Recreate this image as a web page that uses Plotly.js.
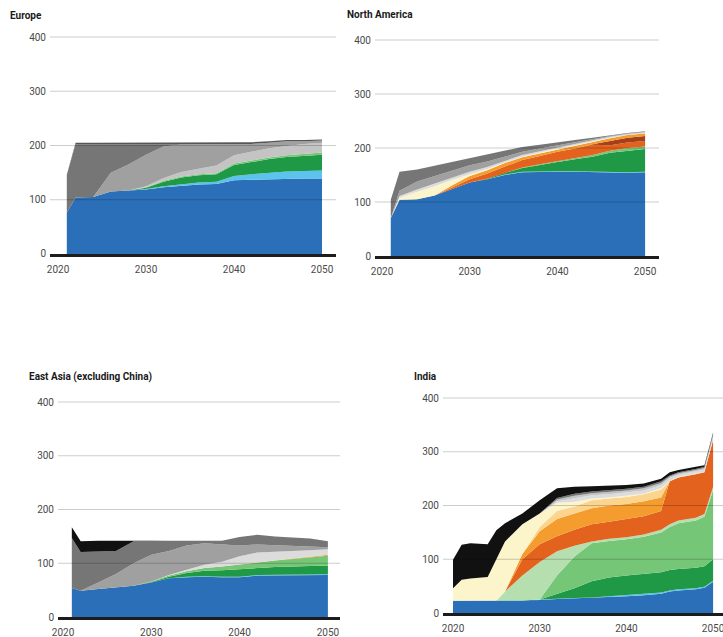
<!DOCTYPE html>
<html><head><meta charset="utf-8">
<script src="https://cdn.plot.ly/plotly-3.0.1.min.js"></script>
<style>html,body{margin:0;padding:0;background:#fff}#chart{width:723px;height:637px}</style>
</head><body><div id="chart"></div>
<script>
// ---------- data ----------
const tick_years = [2020, 2030, 2040, 2050];
const tick_values = [0, 100, 200, 300, 400];
const panel_titles = ["Europe", "North America", "East Asia (excluding China)", "India"];

const eu_years = [2021,2022,2024,2026,2028,2030,2032,2034,2036,2038,2040,2042,2044,2046,2048,2050];
const eu_blue      = [76,104,105,115,117,119,123,126,128,129,136,137,138,139,139,139];
const eu_lightblue = [0,0,0,0,0,1,2,3,4,4,8,10,12,13,14,15];
const eu_darkgreen = [0,0,0,0,0,2,8,12,13,14,20,23,25,27,28,29];
const eu_lightgreen= [0,0,0,0,0,1,2,2,2,2,3,3,3,3,4,4];
const eu_lgrey     = [0,0,0,0,0,2,5,8,10,14,15,16,17,17,18,18];
const eu_midgrey   = [0,0,0,35,48,58,58,51,45,39,20,14,10,9,5,4];
const eu_darkgrey  = [70,98,97,52,37,19,4,0,0,0,0,0,0,0,0,0];
const eu_strip     = [0,3,3,3,3,3,3,3,3,3,3,3,3,2,2,2];

const na_years = [2021,2022,2024,2026,2028,2030,2032,2034,2036,2038,2040,2042,2044,2046,2048,2050];
const na_blue       = [70,104,105,112,124,136,142,150,155,156,156,156,155,154,154,155];
const na_lightblue  = [0,0,0,0,0,0,0,1,1,1,1,1,1,1,1,1];
const na_darkgreen  = [0,0,0,0,0,0,1,3,7,12,17,22,28,36,40,42];
const na_lightgreen = [0,0,0,0,0,0,0,0,1,1,2,2,3,4,5,5];
const na_darkorange = [0,0,0,0,3,6,10,12,14,15,17,18,19,10,10,10];
const na_brown      = [0,0,0,0,0,0,0,0,0,0,0,0,1,8,9,9];
const na_orange     = [0,0,0,0,4,6,6,6,5,5,5,5,4,5,5,5];
const na_paleyellow = [0,4,14,17,10,3,2,1,1,1,1,1,1,1,0,0];
const na_ltgrey     = [0,3,4,5,5,5,4,3,3,3,2,2,2,2,2,2];
const na_midgrey    = [0,10,15,14,13,12,10,8,6,5,4,3,2,1,1,1];
const na_darkgrey   = [34,35,22,19,15,13,13,11,9,7,6,5,3,2,1,1];

const ea_years = [2021,2022,2024,2026,2028,2030,2032,2034,2036,2038,2040,2042,2044,2046,2048,2050];
const ea_blue       = [54,49,52,55,58,64,72,74,75,74,74,77,77,77,77,78];
const ea_lightblue  = [0,0,0,0,0,0,0,1,1,1,1,1,1,1,2,2];
const ea_darkgreen  = [0,0,0,0,0,1,3,7,10,12,14,14,15,16,16,16];
const ea_lightgreen = [0,0,0,0,0,1,2,3,5,7,9,10,12,14,16,18];
const ea_orange     = [0,0,0,0,0,0,0,0,0,0,0,0,0,1,1,2];
const ea_ltgrey     = [0,0,0,0,0,0,1,3,6,9,15,18,16,14,12,10];
const ea_midgrey    = [0,0,12,25,42,50,45,45,40,32,20,15,13,10,8,4];
const ea_darkgrey   = [93,72,58,43,41,26,19,9,5,7,16,18,16,15,14,11];
const ea_black      = [20,20,20,19,1,0,0,0,0,0,0,0,0,0,0,0];

const in_years = [2020,2021,2022,2024,2025,2026,2028,2030,2032,2034,2036,2038,2040,2042,2044,2045,2046,2048,2049,2050];
const in_blue       = [23,23,23,23,23,23,23,24,26,27,28,30,31,33,36,40,42,44,47,58];
const in_lightblue  = [0,0,0,0,0,0,0,1,1,1,1,1,2,2,2,2,2,2,2,2];
const in_darkgreen  = [0,0,0,0,0,0,0,0,8,18,30,35,37,38,38,38,38,38,38,40];
const in_lightgreen = [0,0,0,0,0,0,0,0,35,59,71,68,67,69,74,80,85,88,92,129];
const in_palegreen  = [0,0,0,0,0,17,47,70,45,20,3,4,4,4,5,5,5,5,5,6];
const in_darkorange = [0,0,0,0,0,0,30,33,28,30,32,32,34,34,35,80,80,81,78,87];
const in_orange     = [0,0,0,0,0,0,10,24,32,30,30,30,28,28,25,0,0,0,0,0];
const in_paleorange = [0,0,0,0,0,0,0,8,15,13,15,13,13,13,15,0,0,0,0,0];
const in_paleyellow = [23,39,41,44,77,93,55,25,15,9,3,2,2,1,2,1,1,1,1,1];
const in_ltgrey     = [0,0,0,0,0,0,0,0,3,6,6,6,6,6,6,5,4,4,4,4];
const in_lgrey      = [0,0,0,0,0,0,0,0,3,5,4,4,4,4,4,3,3,3,3,4];
const in_darkgrey   = [0,0,0,0,0,0,0,0,3,4,3,3,3,3,3,2,2,2,2,3];
const in_black      = [53,65,66,61,54,34,20,25,18,13,10,9,7,6,5,6,4,4,3,2];

// ---------- styling ----------
const COLORS = {
  blue:'#2a6fb8', lightblue:'#5cc3ee', darkgreen:'#1f9945', lightgreen:'#76c677',
  palegreen:'#b6dfb0', darkorange:'#e2621e', brown:'#a5401a', orange:'#f59c2e',
  paleorange:'#fcd48e', paleyellow:'#fcf4cb', ltgrey:'#dcdcdc', lgrey:'#c4c4c4',
  midgrey:'#a0a0a0', darkgrey:'#767676', strip:'#565656', black:'#111111'
};

function stack(x, series, n) {
  return series.map(([key, arr]) => ({
    type:'scatter', mode:'lines', x:x, y:arr, stackgroup:'g'+n,
    xaxis:'x'+(n===1?'':n), yaxis:'y'+(n===1?'':n),
    line:{width:0}, fillcolor:COLORS[key], hoverinfo:'skip', showlegend:false
  }));
}

const traces = [].concat(
  stack(eu_years, [['blue',eu_blue],['lightblue',eu_lightblue],['darkgreen',eu_darkgreen],['lightgreen',eu_lightgreen],
    ['lgrey',eu_lgrey],['midgrey',eu_midgrey],['darkgrey',eu_darkgrey],['strip',eu_strip]], 1),
  stack(na_years, [['blue',na_blue],['lightblue',na_lightblue],['darkgreen',na_darkgreen],['lightgreen',na_lightgreen],
    ['darkorange',na_darkorange],['brown',na_brown],['orange',na_orange],['paleyellow',na_paleyellow],
    ['ltgrey',na_ltgrey],['midgrey',na_midgrey],['darkgrey',na_darkgrey]], 2),
  stack(ea_years, [['blue',ea_blue],['lightblue',ea_lightblue],['darkgreen',ea_darkgreen],['lightgreen',ea_lightgreen],
    ['orange',ea_orange],['ltgrey',ea_ltgrey],['midgrey',ea_midgrey],['darkgrey',ea_darkgrey],['black',ea_black]], 3),
  stack(in_years, [['blue',in_blue],['lightblue',in_lightblue],['darkgreen',in_darkgreen],['lightgreen',in_lightgreen],
    ['palegreen',in_palegreen],['darkorange',in_darkorange],['orange',in_orange],['paleorange',in_paleorange],
    ['paleyellow',in_paleyellow],['ltgrey',in_ltgrey],['lgrey',in_lgrey],['darkgrey',in_darkgrey],['black',in_black]], 4)
);

const W = 723, H = 637;
const tickFont = {family:'Roboto, Arial, sans-serif', size:10, color:'#4a4a4a'};
function xax(px0, px1, yearPx2020, pxPerYear, anchor) {
  return {
    domain:[px0/W, px1/W],
    range:[2020 - (yearPx2020 - px0)/pxPerYear, 2020 + (px1 - yearPx2020)/pxPerYear],
    tickvals:tick_years, ticks:'', showgrid:false, zeroline:false,
    showline:true, linecolor:'#1c1c1c', linewidth:3, layer:'above traces',
    tickfont:tickFont, ticklabelstandoff:4, ticklabeloverflow:'allow', anchor:anchor, fixedrange:true
  };
}
function yax(pyZero, pxPerUnit, anchor) {
  const top = pyZero - 410*pxPerUnit;
  return {
    domain:[1 - pyZero/H, 1 - top/H], range:[0, 410],
    tickvals:tick_values, ticks:'', showgrid:false,
    zeroline:false, showline:false, tickfont:tickFont, ticklabelstandoff:3,
    anchor:anchor, fixedrange:true
  };
}

// gridlines drawn semi-transparent above the areas, as in the source graphic
const shapes = [];
['', '2', '3', '4'].forEach(s => {
  tick_values.filter(v => v > 0).forEach(v => {
    shapes.push({type:'line', xref:'x'+s+' domain', yref:'y'+s, x0:0, x1:1, y0:v, y1:v,
                 line:{color:'rgba(0,0,0,0.2)', width:1}, layer:'above'});
  });
});

const titleFont = {family:'Roboto, Arial, sans-serif', size:10, color:'#1a1a1a'};
function title(text, px, py) {
  return {text:'<b>'+text+'</b>', x:px/W, y:1-py/H, xref:'paper', yref:'paper',
          xanchor:'left', yanchor:'middle', showarrow:false, font:titleFont};
}

const layout = {
  width:W, height:H, margin:{l:0,r:0,t:0,b:0}, paper_bgcolor:'#fff', plot_bgcolor:'rgba(0,0,0,0)',
  showlegend:false,
  xaxis: xax(50, 336, 58, 8.8, 'y'),
  yaxis: yax(254, 0.5425, 'x'),
  xaxis2: xax(375, 659, 382, 8.77, 'y2'),
  yaxis2: yax(256, 0.54, 'x2'),
  xaxis3: xax(58, 340, 63, 8.83, 'y3'),
  yaxis3: yax(617, 0.5375, 'x3'),
  xaxis4: xax(443, 723, 453, 8.67, 'y4'),
  yaxis4: yax(613, 0.5375, 'x4'),
  shapes: shapes,
  annotations:[
    title(panel_titles[0], 8, 15),
    title(panel_titles[1], 345, 14),
    title(panel_titles[2], 27, 377),
    title(panel_titles[3], 412, 376)
  ]
};

Plotly.newPlot('chart', traces, layout, {displayModeBar:false, staticPlot:true});
</script></body></html>
